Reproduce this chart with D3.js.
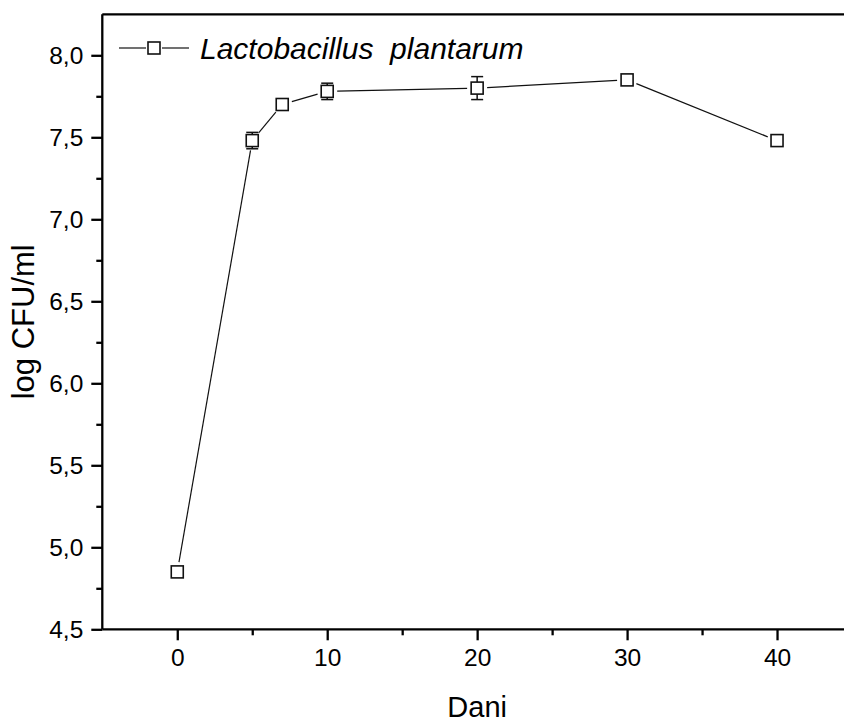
<!DOCTYPE html>
<html>
<head>
<meta charset="utf-8">
<script src="https://cdn.jsdelivr.net/npm/d3@7"></script>
<style>
  body { margin: 0; background: #fff; }
  svg { display: block; font-family: Arial, "Liberation Sans", sans-serif; }
</style>
</head>
<body>
<div id="chart"></div>
<script>
// days of fermentation and measured counts
const days = [0, 5, 7, 10, 20, 30, 40];
const logCfu = [4.85, 7.48, 7.70, 7.78, 7.80, 7.85, 7.48];
const errors = [0, 0.05, 0.035, 0.05, 0.07, 0.02, 0.02];
const xTicks = [0, 10, 20, 30, 40];
const xMinorTicks = [5, 15, 25, 35];
const yTicks = [4.5, 5.0, 5.5, 6.0, 6.5, 7.0, 7.5, 8.0];
const yMinorTicks = [4.75, 5.25, 5.75, 6.25, 6.75, 7.25, 7.75];
const seriesName = 'Lactobacillus  plantarum';

const width = 844;
const height = 722;
const plot = { left: 102.3, right: 852, top: 14.3, bottom: 629.3 };

const data = days.map((d, i) => ({ day: d, value: logCfu[i], err: errors[i] }));

const x = d3.scaleLinear().domain([-5, 45]).range([plot.left, plot.right]);
const y = d3.scaleLinear().domain([4.5, 8.25]).range([plot.bottom, plot.top]);

const fmt = d => d3.format('.1f')(d).replace('.', ',');

const svg = d3
  .select('#chart')
  .append('svg')
  .attr('width', width)
  .attr('height', height);

// frame (top + right)
svg
  .append('path')
  .attr('d', `M${plot.left},${plot.top}H${plot.right}V${plot.bottom}`)
  .attr('fill', 'none')
  .attr('stroke', '#000')
  .attr('stroke-width', 2.3);

// bottom axis
const xAxis = svg
  .append('g')
  .attr('transform', `translate(0, ${plot.bottom})`)
  .call(d3.axisBottom(x).tickValues(xTicks).tickSize(11).tickPadding(8).tickFormat(d => d));

svg
  .append('g')
  .attr('transform', `translate(0, ${plot.bottom})`)
  .call(d3.axisBottom(x).tickValues(xMinorTicks).tickSize(6).tickFormat(''))
  .select('.domain')
  .remove();

// left axis
const yAxis = svg
  .append('g')
  .attr('transform', `translate(${plot.left}, 0)`)
  .call(d3.axisLeft(y).tickValues(yTicks).tickSize(11).tickPadding(8).tickFormat(fmt));

svg
  .append('g')
  .attr('transform', `translate(${plot.left}, 0)`)
  .call(d3.axisLeft(y).tickValues(yMinorTicks).tickSize(6).tickFormat(''))
  .select('.domain')
  .remove();

svg.selectAll('.domain').attr('stroke-width', 2.3).attr('stroke', '#000');
svg.selectAll('.tick line').attr('stroke-width', 2.3).attr('stroke', '#000');
svg.selectAll('.tick text').attr('font-size', 24.5).attr('fill', '#000').attr('font-family', 'Arial, "Liberation Sans", sans-serif');
xAxis.selectAll('.domain').attr('d', `M${plot.left},0H${plot.right}`);
yAxis.selectAll('.domain').attr('d', `M0,${plot.bottom}V${plot.top}`);

// axis titles
svg
  .append('text')
  .attr('x', (plot.left + plot.right) / 2)
  .attr('y', 717)
  .attr('text-anchor', 'middle')
  .attr('font-size', 29)
  .text('Dani');

svg
  .append('text')
  .attr('transform', `translate(34, ${(plot.top + plot.bottom) / 2}) rotate(-90)`)
  .attr('text-anchor', 'middle')
  .attr('font-size', 31)
  .text('log CFU/ml');

// connecting line with gaps at the symbols
const gap = 10;
const segs = d3.pairs(data).map(([a, b]) => {
  const x1 = x(a.day), y1 = y(a.value), x2 = x(b.day), y2 = y(b.value);
  const len = Math.hypot(x2 - x1, y2 - y1);
  const ux = (x2 - x1) / len, uy = (y2 - y1) / len;
  return [x1 + ux * gap, y1 + uy * gap, x2 - ux * gap, y2 - uy * gap];
});

svg
  .append('g')
  .selectAll('line')
  .data(segs)
  .join('line')
  .attr('x1', d => d[0])
  .attr('y1', d => d[1])
  .attr('x2', d => d[2])
  .attr('y2', d => d[3])
  .attr('stroke', '#111')
  .attr('stroke-width', 1.2);

// error bars (drawn behind the white symbols)
const eb = svg.append('g').attr('stroke', '#111').attr('stroke-width', 1.5);
data.filter(d => d.err > 0).forEach(d => {
  const cx = x(d.day);
  const top = y(d.value + d.err);
  const bot = y(d.value - d.err);
  eb.append('line').attr('x1', cx).attr('x2', cx).attr('y1', top).attr('y2', bot);
  eb.append('line').attr('x1', cx - 6).attr('x2', cx + 6).attr('y1', top).attr('y2', top);
  eb.append('line').attr('x1', cx - 6).attr('x2', cx + 6).attr('y1', bot).attr('y2', bot);
});

// symbols
const size = 12;
svg
  .append('g')
  .selectAll('rect')
  .data(data)
  .join('rect')
  .attr('x', d => x(d.day) - size / 2)
  .attr('y', d => y(d.value) - size / 2)
  .attr('width', size)
  .attr('height', size)
  .attr('fill', '#fff')
  .attr('stroke', '#111')
  .attr('stroke-width', 1.6);

// legend
const legend = svg.append('g').attr('transform', 'translate(119, 48)');
legend.append('line').attr('x1', 0).attr('x2', 27).attr('stroke', '#111').attr('stroke-width', 1.2);
legend.append('line').attr('x1', 43).attr('x2', 70).attr('stroke', '#111').attr('stroke-width', 1.2);
legend
  .append('rect')
  .attr('x', 35 - size / 2)
  .attr('y', -size / 2)
  .attr('width', size)
  .attr('height', size)
  .attr('fill', '#fff')
  .attr('stroke', '#111')
  .attr('stroke-width', 1.6);
legend
  .append('text')
  .attr('x', 81)
  .attr('y', 10.5)
  .attr('font-size', 30)
  .attr('font-style', 'italic')
  .style('white-space', 'pre')
  .attr('xml:space', 'preserve')
  .text(seriesName);
</script>
</body>
</html>
